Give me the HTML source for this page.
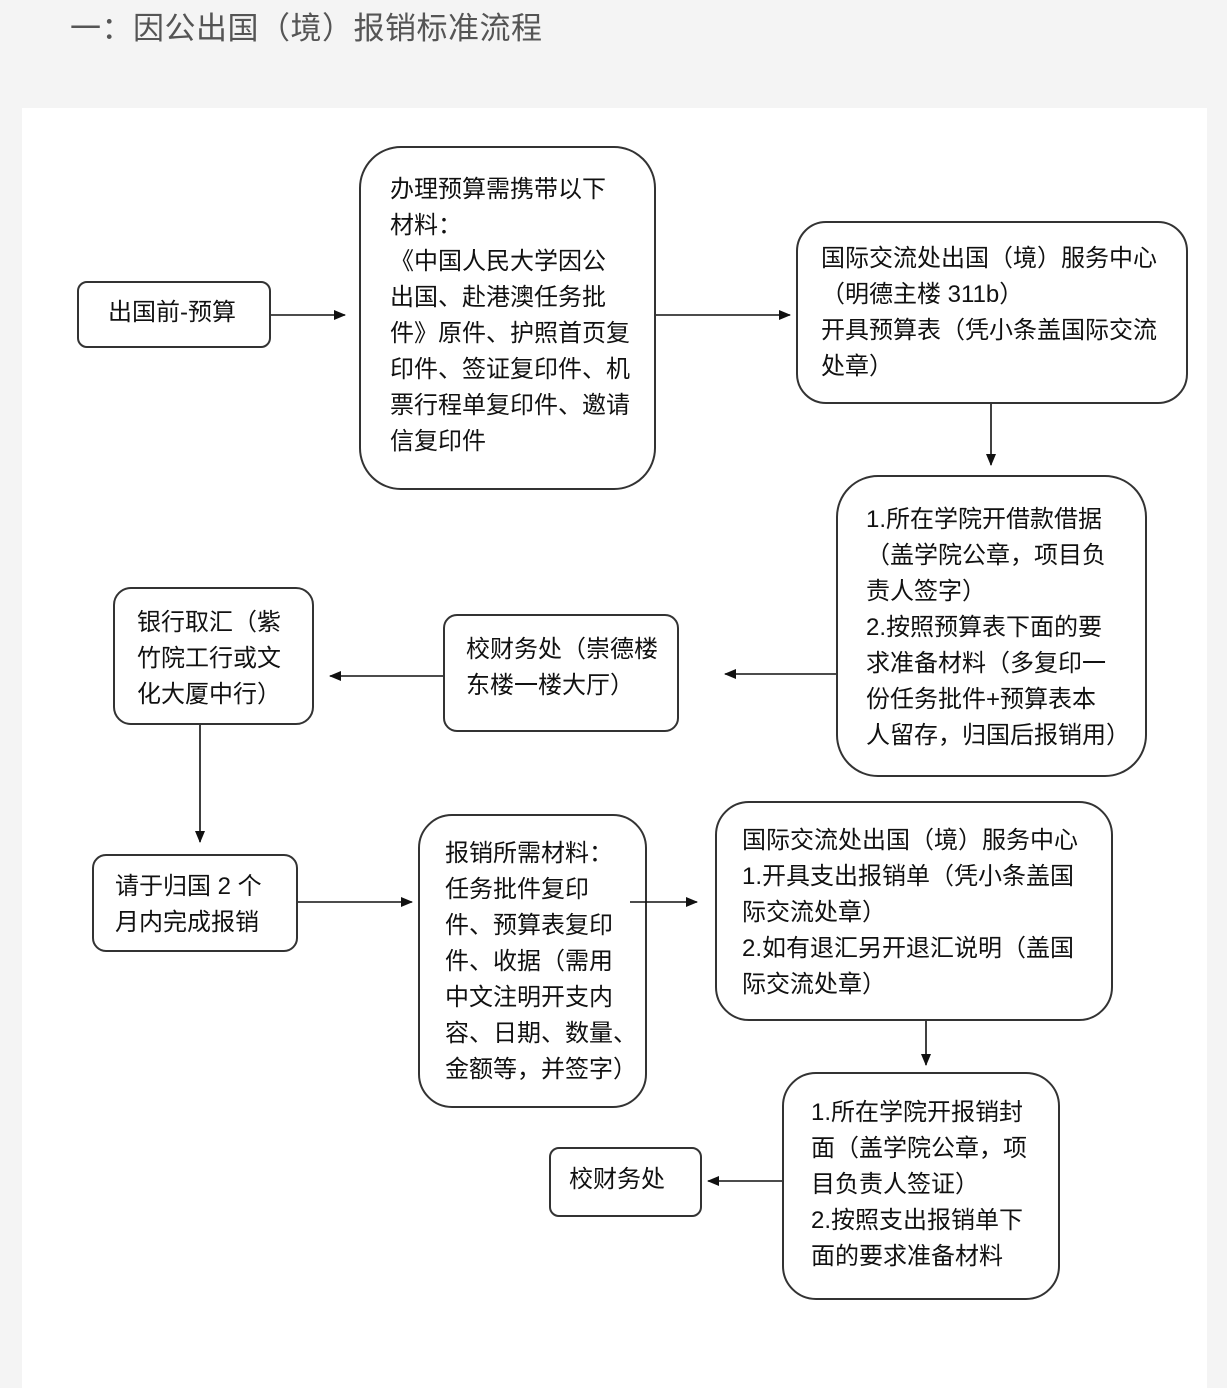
<!DOCTYPE html>
<html><head><meta charset="utf-8">
<style>
body{margin:0;width:1227px;height:1375px;background:#f4f4f4;position:relative;overflow:hidden;font-family:"Liberation Sans","Noto Sans CJK SC",sans-serif;}
.title{position:absolute;left:70px;top:9px;font-size:31px;letter-spacing:0.5px;color:#555;line-height:40px;white-space:nowrap;}
.panel{position:absolute;left:22px;top:108px;width:1185px;height:1280px;background:#fff;}
.b{position:absolute;border:2px solid #333;box-sizing:border-box;background:#fff;}
.t{position:absolute;font-size:24px;line-height:36px;color:#111;white-space:nowrap;margin-top:2px;}
svg{position:absolute;left:0;top:0;}
</style></head><body>
<div class="title">一：因公出国（境）报销标准流程</div>
<div class="panel"></div>

<div class="b" style="left:77px;top:281px;width:194px;height:67px;border-radius:10px"></div>
<div class="t" style="left:108px;top:293px">出国前-预算</div>

<div class="b" style="left:359px;top:146px;width:297px;height:344px;border-radius:42px"></div>
<div class="t" style="left:390px;top:170px">办理预算需携带以下<br>材料：<br>《中国人民大学因公<br>出国、赴港澳任务批<br>件》原件、护照首页复<br>印件、签证复印件、机<br>票行程单复印件、邀请<br>信复印件</div>

<div class="b" style="left:796px;top:221px;width:392px;height:183px;border-radius:30px"></div>
<div class="t" style="left:821px;top:239px">国际交流处出国（境）服务中心<br>（明德主楼 311b）<br>开具预算表（凭小条盖国际交流<br>处章）</div>

<div class="b" style="left:836px;top:475px;width:311px;height:302px;border-radius:42px"></div>
<div class="t" style="left:866px;top:500px">1.所在学院开借款借据<br>（盖学院公章，项目负<br>责人签字）<br>2.按照预算表下面的要<br>求准备材料（多复印一<br>份任务批件+预算表本<br>人留存，归国后报销用）</div>

<div class="b" style="left:443px;top:614px;width:236px;height:118px;border-radius:14px"></div>
<div class="t" style="left:466px;top:630px">校财务处（崇德楼<br>东楼一楼大厅）</div>

<div class="b" style="left:113px;top:587px;width:201px;height:138px;border-radius:18px"></div>
<div class="t" style="left:137px;top:603px">银行取汇（紫<br>竹院工行或文<br>化大厦中行）</div>

<div class="b" style="left:92px;top:854px;width:206px;height:98px;border-radius:14px"></div>
<div class="t" style="left:115px;top:867px">请于归国 2 个<br>月内完成报销</div>

<div class="b" style="left:418px;top:814px;width:229px;height:294px;border-radius:34px"></div>
<div class="t" style="left:445px;top:834px">报销所需材料：<br>任务批件复印<br>件、预算表复印<br>件、收据（需用<br>中文注明开支内<br>容、日期、数量、<br>金额等，并签字）</div>

<div class="b" style="left:715px;top:801px;width:398px;height:220px;border-radius:34px"></div>
<div class="t" style="left:742px;top:821px">国际交流处出国（境）服务中心<br>1.开具支出报销单（凭小条盖国<br>际交流处章）<br>2.如有退汇另开退汇说明（盖国<br>际交流处章）</div>

<div class="b" style="left:782px;top:1072px;width:278px;height:228px;border-radius:34px"></div>
<div class="t" style="left:811px;top:1093px">1.所在学院开报销封<br>面（盖学院公章，项<br>目负责人签证）<br>2.按照支出报销单下<br>面的要求准备材料</div>

<div class="b" style="left:549px;top:1147px;width:153px;height:70px;border-radius:10px"></div>
<div class="t" style="left:569px;top:1160px">校财务处</div>

<svg width="1227" height="1375">
<defs><marker id="a" markerWidth="12" markerHeight="10" refX="11" refY="5" orient="auto" markerUnits="userSpaceOnUse"><path d="M0,0 L12,5 L0,10 z" fill="#111"/></marker></defs>
<g stroke="#111" stroke-width="1.6" fill="none" marker-end="url(#a)">
<line x1="271" y1="315" x2="345" y2="315"/>
<line x1="656" y1="315" x2="790" y2="315"/>
<line x1="991" y1="404" x2="991" y2="465"/>
<line x1="836" y1="674" x2="725" y2="674"/>
<line x1="443" y1="676" x2="330" y2="676"/>
<line x1="200" y1="725" x2="200" y2="842"/>
<line x1="298" y1="902" x2="412" y2="902"/>
<line x1="630" y1="902" x2="697" y2="902"/>
<line x1="926" y1="1021" x2="926" y2="1065"/>
<line x1="782" y1="1181" x2="708" y2="1181"/>
</g>
</svg>
</body></html>
